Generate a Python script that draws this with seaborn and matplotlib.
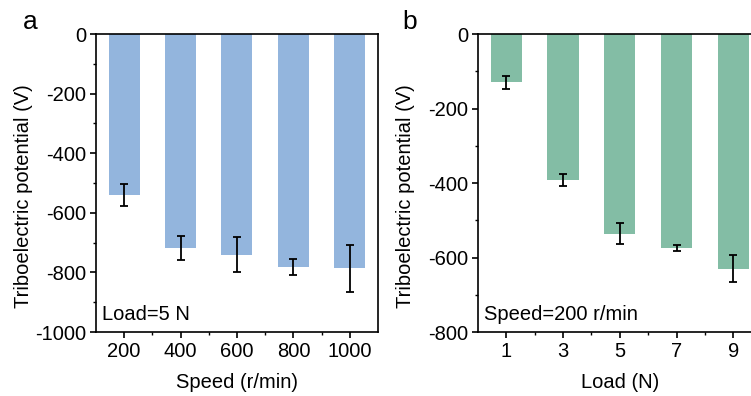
import matplotlib
matplotlib.use("Agg")
import matplotlib.pyplot as plt
import matplotlib.ticker as mticker
import seaborn as sns
import pandas as pd

# panel a: speed series at load 5 N
speeds = ["200", "400", "600", "800", "1000"]
speed_potential = [-540, -718, -740, -782, -786]
speed_err = [38, 40, 60, 27, 79]

# panel b: load series at 200 r/min
loads = ["1", "3", "5", "7", "9"]
load_potential = [-130, -392, -536, -574, -630]
load_err = [17, 16, 28, 8, 36]

BLUE = "#93b5dd"
GREEN = "#83bda5"
FS = 14.5


def set_style():
    sns.set_theme(style="ticks")
    plt.rcParams["font.family"] = ["Liberation Sans", "DejaVu Sans"]
    plt.rcParams["font.size"] = FS
    plt.rcParams["axes.unicode_minus"] = False
    plt.rcParams["axes.linewidth"] = 1.2
    for key in ["text.color", "axes.labelcolor", "xtick.color", "ytick.color", "axes.edgecolor"]:
        plt.rcParams[key] = "black"
    plt.rcParams["xtick.direction"] = "out"
    plt.rcParams["ytick.direction"] = "out"


def draw_panel(ax, cats, vals, errs, color, ymin, xlabel, note):
    df = pd.DataFrame({"cat": cats, "val": vals})
    sns.barplot(data=df, x="cat", y="val", color=color, saturation=1,
                width=0.55, linewidth=0, ax=ax)
    ax.errorbar(range(len(cats)), vals, yerr=errs, fmt="none",
                ecolor="black", elinewidth=1.3, capsize=2.6, capthick=1.3)
    ax.set_xlim(-0.5, len(cats) - 0.5)
    ax.set_ylim(ymin, 0)
    ax.yaxis.set_major_locator(mticker.MultipleLocator(200))
    ax.yaxis.set_minor_locator(mticker.MultipleLocator(100))
    ax.xaxis.set_minor_locator(mticker.FixedLocator([i + 0.5 for i in range(len(cats) - 1)]))
    ax.tick_params(which="major", length=4, width=1.2, labelsize=FS, pad=3)
    ax.tick_params(which="minor", length=2.5, width=1.0)
    for s in ax.spines.values():
        s.set_visible(True)
    ax.set_xlabel(xlabel, fontsize=FS, labelpad=9)
    ax.set_ylabel("Triboelectric potential (V)", fontsize=FS)
    ax.text(0.022, 0.058, note, transform=ax.transAxes, fontsize=FS,
            va="center", ha="left")


set_style()
fig = plt.figure(figsize=(7.51, 3.96), dpi=100)
ax_a = fig.add_axes([0.1278, 0.1616, 0.3755, 0.7525])
ax_b = fig.add_axes([0.6365, 0.1616, 0.3776, 0.7525])

draw_panel(ax_a, speeds, speed_potential, speed_err, BLUE, -1000,
           "Speed (r/min)", "Load=5 N")
draw_panel(ax_b, loads, load_potential, load_err, GREEN, -800,
           "Load (N)", "Speed=200 r/min")
ax_a.yaxis.set_label_coords(-0.222, 0.455)
ax_b.yaxis.set_label_coords(-0.222, 0.455)

fig.text(23 / 751, 1 - 29 / 396, "a", fontsize=19, ha="left", va="baseline")
fig.text(402 / 751, 1 - 29 / 396, "b", fontsize=19, ha="left", va="baseline")

fig.savefig("out.png", dpi=100)
